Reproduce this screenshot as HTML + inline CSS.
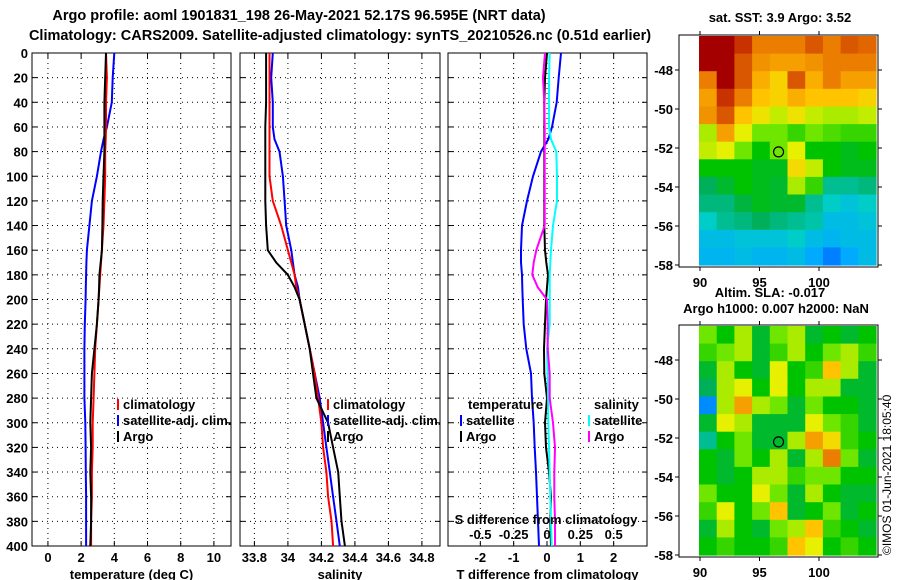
<!DOCTYPE html>
<html><head><meta charset="utf-8"><style>
body{margin:0;background:#fff;}
svg{display:block;font-family:"Liberation Sans",Arial,sans-serif;font-weight:bold;}
text{font-size:13px;fill:#000;}
</style></head><body>
<svg id="fig" width="900" height="580" viewBox="0 0 900 580">
<text x="299" y="20" text-anchor="middle" style="font-size:14.5px">Argo profile: aoml 1901831_198 26-May-2021 52.17S 96.595E (NRT data)</text>
<text x="340" y="40" text-anchor="middle" style="font-size:14.5px">Climatology: CARS2009. Satellite-adjusted climatology: synTS_20210526.nc (0.51d earlier)</text>
<text x="780" y="22" text-anchor="middle">sat. SST: 3.9 Argo: 3.52</text>
<text x="770" y="297" text-anchor="middle">Altim. SLA: -0.017</text>
<text x="776" y="313" text-anchor="middle">Argo h1000: 0.007 h2000: NaN</text>
<text transform="translate(891,555) rotate(-90)" style="font-size:12px;font-weight:normal">©IMOS 01-Jun-2021 18:05:40</text>
</svg>
<script>
// ---- profile data ----
const depths = [0,20,40,60,70,80,100,120,140,160,170,180,190,200,220,240,260,280,300,320,340,360,380,400];
const tempClim = [3.5,3.55,3.5,3.5,3.48,3.45,3.45,3.4,3.35,3.25,3.2,3.15,3.1,3.05,2.95,2.85,2.8,2.75,2.7,2.7,2.65,2.65,2.6,2.6];
const tempSat = [4.0,3.9,3.85,3.55,3.35,3.2,2.95,2.65,2.5,2.35,2.32,2.3,2.28,2.27,2.22,2.2,2.2,2.2,2.25,2.27,2.28,2.3,2.3,2.3];
const tempArgo = [3.5,3.45,3.4,3.4,3.4,3.4,3.35,3.3,3.28,3.25,3.18,3.1,3.08,3.05,2.95,2.8,2.65,2.6,2.55,2.6,2.55,2.6,2.6,2.55];
const salClim = [33.89,33.89,33.89,33.89,33.89,33.89,33.89,33.91,33.96,34.0,34.02,34.04,34.05,34.07,34.1,34.13,34.16,34.18,34.2,34.21,34.23,34.24,34.26,34.27];
const salSat = [33.91,33.9,33.91,33.91,33.92,33.95,33.97,33.98,33.99,34.02,34.03,34.04,34.06,34.07,34.1,34.13,34.16,34.19,34.21,34.23,34.25,34.27,34.29,34.31];
const salArgo = [33.87,33.87,33.87,33.865,33.865,33.865,33.865,33.865,33.87,33.88,33.93,34.0,34.04,34.07,34.1,34.13,34.15,34.17,34.24,34.27,34.3,34.31,34.32,34.34];
const dTsat = [0.42,0.35,0.29,0.15,0.04,-0.18,-0.42,-0.6,-0.75,-0.78,-0.78,-0.75,-0.74,-0.73,-0.7,-0.62,-0.48,-0.45,-0.4,-0.37,-0.33,-0.3,-0.27,-0.24];
const dTargo = [0,-0.06,-0.08,-0.08,-0.08,-0.08,-0.08,-0.08,-0.08,-0.06,-0.02,0.03,0.0,-0.03,-0.06,-0.09,-0.08,0.0,-0.06,-0.03,0.06,0.12,0.1,0.12];
const dSsat = [0.02,0.015,0.015,0.015,0.03,0.07,0.075,0.075,0.045,0.03,0.025,0.02,0.02,0.02,0.02,0.0,0.005,0.008,0.01,0.015,0.02,0.025,0.03,0.035];
const dSargo = [-0.015,-0.03,-0.02,-0.017,-0.017,-0.017,-0.017,-0.017,-0.017,-0.08,-0.1,-0.11,-0.07,0.0,0.005,0.005,0.02,0.02,0.045,0.06,0.055,0.055,0.06,0.06];
const depthTicks = [0,20,40,60,80,100,120,140,160,180,200,220,240,260,280,300,320,340,360,380,400];
const tempTicks = [0,2,4,6,8,10];
const salTicks = [33.8,34,34.2,34.4,34.6,34.8];
const salTickLabels = ["33.8","34","34.2","34.4","34.6","34.8"];
const dTTicks = [-2,-1,0,1,2];
const dSTicks = [-0.5,-0.25,0,0.25,0.5];
const dSTickLabels = ["-0.5","-0.25","0","0.25","0.5"];
// ---- map data (coarse cells, colour index 0..1) ----
const sstRow0=[1,1,0.95,0.85,0.85,0.85,0.9,0.85,0.9,0.88];
const sstRow1=[1,1,0.9,0.82,0.8,0.8,0.82,0.85,0.85,0.85];
const sstRow2=[0.85,1,0.9,0.78,0.72,0.9,0.78,0.85,0.8,0.8];
const sstRow3=[0.8,0.95,0.85,0.75,0.72,0.78,0.75,0.75,0.75,0.72];
const sstRow4=[0.82,0.9,0.75,0.68,0.62,0.68,0.62,0.6,0.6,0.62];
const sstRow5=[0.6,0.8,0.65,0.55,0.55,0.5,0.55,0.52,0.5,0.5];
const sstRow6=[0.62,0.65,0.55,0.45,0.55,0.65,0.45,0.45,0.42,0.45];
const sstRow7=[0.45,0.45,0.45,0.42,0.42,0.7,0.62,0.45,0.42,0.42];
const sstRow8=[0.35,0.4,0.45,0.42,0.4,0.6,0.5,0.3,0.3,0.32];
const sstRow9=[0.32,0.32,0.38,0.42,0.4,0.4,0.3,0.25,0.22,0.25];
const sstRow10=[0.25,0.3,0.32,0.35,0.32,0.3,0.28,0.2,0.2,0.22];
const sstRow11=[0.2,0.2,0.22,0.22,0.22,0.25,0.2,0.18,0.2,0.2];
const sstRow12=[0.18,0.18,0.2,0.18,0.18,0.2,0.15,0.08,0.15,0.2];
const slaRow0=[0.55,0.45,0.6,0.4,0.55,0.6,0.4,0.45,0.4,0.45];
const slaRow1=[0.5,0.55,0.6,0.4,0.5,0.6,0.45,0.55,0.6,0.5];
const slaRow2=[0.4,0.6,0.45,0.4,0.65,0.45,0.5,0.75,0.6,0.4];
const slaRow3=[0.35,0.6,0.65,0.45,0.65,0.45,0.6,0.6,0.4,0.4];
const slaRow4=[0.1,0.6,0.8,0.6,0.55,0.4,0.55,0.45,0.45,0.4];
const slaRow5=[0.4,0.65,0.6,0.4,0.4,0.4,0.65,0.55,0.5,0.4];
const slaRow6=[0.3,0.45,0.55,0.4,0.4,0.6,0.8,0.7,0.5,0.45];
const slaRow7=[0.45,0.4,0.55,0.45,0.6,0.4,0.6,0.85,0.55,0.4];
const slaRow8=[0.45,0.4,0.45,0.6,0.6,0.5,0.55,0.55,0.45,0.45];
const slaRow9=[0.55,0.45,0.45,0.65,0.55,0.4,0.6,0.45,0.4,0.4];
const slaRow10=[0.5,0.65,0.45,0.55,0.75,0.4,0.45,0.55,0.4,0.45];
const slaRow11=[0.4,0.6,0.45,0.4,0.55,0.6,0.75,0.5,0.45,0.4];
const slaRow12=[0.45,0.5,0.45,0.45,0.5,0.75,0.65,0.45,0.5,0.45];
const sstGrid=[sstRow0,sstRow1,sstRow2,sstRow3,sstRow4,sstRow5,sstRow6,sstRow7,sstRow8,sstRow9,sstRow10,sstRow11,sstRow12];
const slaGrid=[slaRow0,slaRow1,slaRow2,slaRow3,slaRow4,slaRow5,slaRow6,slaRow7,slaRow8,slaRow9,slaRow10,slaRow11,slaRow12];
const argoLon=96.6, argoLat=-52.2;
const lonTicks=[90,95,100];
const latTicks=[-48,-50,-52,-54,-56,-58];

const NS="http://www.w3.org/2000/svg";
const svg=document.getElementById('fig');
function mk(tag,attrs,parent){const e=document.createElementNS(NS,tag);for(const k in attrs)e.setAttribute(k,attrs[k]);(parent||svg).appendChild(e);return e;}
function txt(x,y,s,anchor,parent){const t=mk('text',{x:x,y:y,'text-anchor':anchor||'middle'},parent);t.textContent=s;return t;}

const PT=53, PB=546;
function yD(d){return PT+(d/400)*(PB-PT);}

function panel(name,x0,x1,vmin,vmax,xticks,xlabels,xtitle,showY){
  const g=mk('g',{});
  
  
  const sx=v=>x0+(v-vmin)/(vmax-vmin)*(x1-x0);
  xticks.forEach((v,i)=>{
    const X=sx(v);
    const gl=mk('line',{x1:X,x2:X,y1:PT,y2:PB,stroke:'#000','stroke-dasharray':'1,4','stroke-width':1},g);
    
    
    mk('line',{x1:X,x2:X,y1:PB,y2:PB-5,stroke:'#000'},g);
    mk('line',{x1:X,x2:X,y1:PT,y2:PT+5,stroke:'#000'},g);
    const t=txt(X,562,xlabels[i],'middle',g);
    
    
  });
  depthTicks.forEach(d=>{
    const Y=yD(d);
    if(d>0&&d<400){const gl=mk('line',{x1:x0,x2:x1,y1:Y,y2:Y,stroke:'#000','stroke-dasharray':'1,4'},g);
      
      }
    mk('line',{x1:x0,x2:x0+5,y1:Y,y2:Y,stroke:'#000'},g);
    mk('line',{x1:x1,x2:x1-5,y1:Y,y2:Y,stroke:'#000'},g);
    if(showY){const t=txt(28,Y+5,String(d),'end',g);
      
      }
  });
  const r=mk('rect',{x:x0,y:PT,width:x1-x0,height:PB-PT,fill:'none',stroke:'#000'},g);
  
  
  const t=txt((x0+x1)/2,579,xtitle,'middle',g);
  
  
  return {g,sx};
}
function series(p,vals,color,name){
  const pts=vals.map((v,i)=>p.sx(v).toFixed(1)+','+yD(depths[i]).toFixed(1)).join(' ');
  const l=mk('polyline',{points:pts,fill:'none',stroke:color,'stroke-width':2},p.g);
  
  
}
function legend(x,y,color,label,parent){
  const m=mk('rect',{x:x,y:y-10,width:2,height:11,fill:color},parent);
  
  
  const t=txt(x+6,y,label,'start',parent);
  
  
}

const p1=panel('temperature-panel',32,231,-0.96,11.03,tempTicks,tempTicks.map(String),'temperature (deg C)',true);
series(p1,tempSat,'#0000ff','temp-satellite-line');
series(p1,tempClim,'#ff0000','temp-climatology-line');
series(p1,tempArgo,'#000000','temp-argo-line');
legend(117,409,'#ff0000','climatology',p1.g);
legend(117,425,'#0000ff','satellite-adj. clim.',p1.g);
legend(117,441,'#000000','Argo',p1.g);

const p2=panel('salinity-panel',240,440,33.714,34.908,salTicks,salTickLabels,'salinity',false);
series(p2,salSat,'#0000ff','sal-satellite-line');
series(p2,salClim,'#ff0000','sal-climatology-line');
series(p2,salArgo,'#000000','sal-argo-line');
legend(327,409,'#ff0000','climatology',p2.g);
legend(327,425,'#0000ff','satellite-adj. clim.',p2.g);
legend(327,441,'#000000','Argo',p2.g);

const p3=panel('difference-panel',448,647,-2.97,3.0,dTTicks,dTTicks.map(String),'T difference from climatology',false);
const sxS=v=>p3.sx(v*4);
series(p3,dTsat,'#0000ff','dT-satellite-line');
series(p3,dTargo,'#000000','dT-argo-line');
series(p3,dSsat.map(v=>v*4),'#00ffff','dS-satellite-line');
series(p3,dSargo.map(v=>v*4),'#ff00ff','dS-argo-line');
{const t=txt(468,409,'temperature','start',p3.g);}
{const t=txt(594,409,'salinity','start',p3.g);}
legend(460,425,'#0000ff','satellite',p3.g);
legend(460,441,'#000000','Argo',p3.g);
legend(588,425,'#00ffff','satellite',p3.g);
legend(588,441,'#ff00ff','Argo',p3.g);
{const t=txt(546,524,'S difference from climatology','middle',p3.g);}
dSTicks.forEach((v,i)=>{const t=txt(sxS(v),539,dSTickLabels[i],'middle',p3.g);
  
  });

// ---- maps ----
const stops=[[0,[0,80,255]],[0.15,[0,170,255]],[0.25,[0,205,200]],[0.35,[0,175,90]],[0.45,[0,195,0]],[0.55,[110,230,0]],[0.65,[230,240,0]],[0.75,[255,195,0]],[0.85,[235,125,0]],[0.95,[200,50,0]],[1,[165,0,0]]];
function cmap(v){for(let i=1;i<stops.length;i++){if(v<=stops[i][0]){const a=stops[i-1],b=stops[i];const t=(v-a[0])/(b[0]-a[0]);return 'rgb('+a[1].map((c,k)=>Math.round(c+(b[1][k]-c)*t)).join(',')+')';}}return 'rgb(165,0,0)';}
function mapPanel(name,top,bottom,grid,latTop){
  const g=mk('g',{});
  
  
  const fx0=679,fx1=878;
  const lonX=lon=>700+(lon-90)*11.9;
  const latY=lat=>latTop+(-48-lat)*((bottom-2-latTop)/10);
  const cx0=699,cx1=876,cy0=top+1,cy1=bottom-2;
  const rows=grid.length, cols=grid[0].length;
  const cw=(cx1-cx0)/cols, ch=(cy1-cy0)/rows;
  grid.forEach((row,r)=>row.forEach((v,c)=>{
    const cell=mk('rect',{x:(cx0+c*cw).toFixed(1),y:(cy0+r*ch).toFixed(1),width:(cw+0.6).toFixed(1),height:(ch+0.6).toFixed(1),fill:cmap(v)},g);
    
    
  }));
  mk('rect',{x:fx0,y:top,width:fx1-fx0,height:bottom-top,fill:'none',stroke:'#000'},g);
  lonTicks.forEach(l=>{const X=lonX(l);
    mk('line',{x1:X,x2:X,y1:top,y2:top-4,stroke:'#000'},g);
    mk('line',{x1:X,x2:X,y1:bottom,y2:bottom+4,stroke:'#000'},g);
    const t=txt(X,bottom+20,String(l),'middle',g);
    
    });
  latTicks.forEach(l=>{const Y=latY(l);
    mk('line',{x1:fx0,x2:fx0-4,y1:Y,y2:Y,stroke:'#000'},g);
    mk('line',{x1:fx1,x2:fx1+4,y1:Y,y2:Y,stroke:'#000'},g);
    const t=txt(673,Y+5,String(l),'end',g);
    
    });
  const c=mk('circle',{cx:lonX(argoLon),cy:latY(argoLat),r:5,fill:'none',stroke:'#000','stroke-width':1.2},g);
  
  
}
mapPanel('sst-map',35,267,sstGrid,70);
mapPanel('sla-map',325,557,slaGrid,360);
</script>
</body></html>
